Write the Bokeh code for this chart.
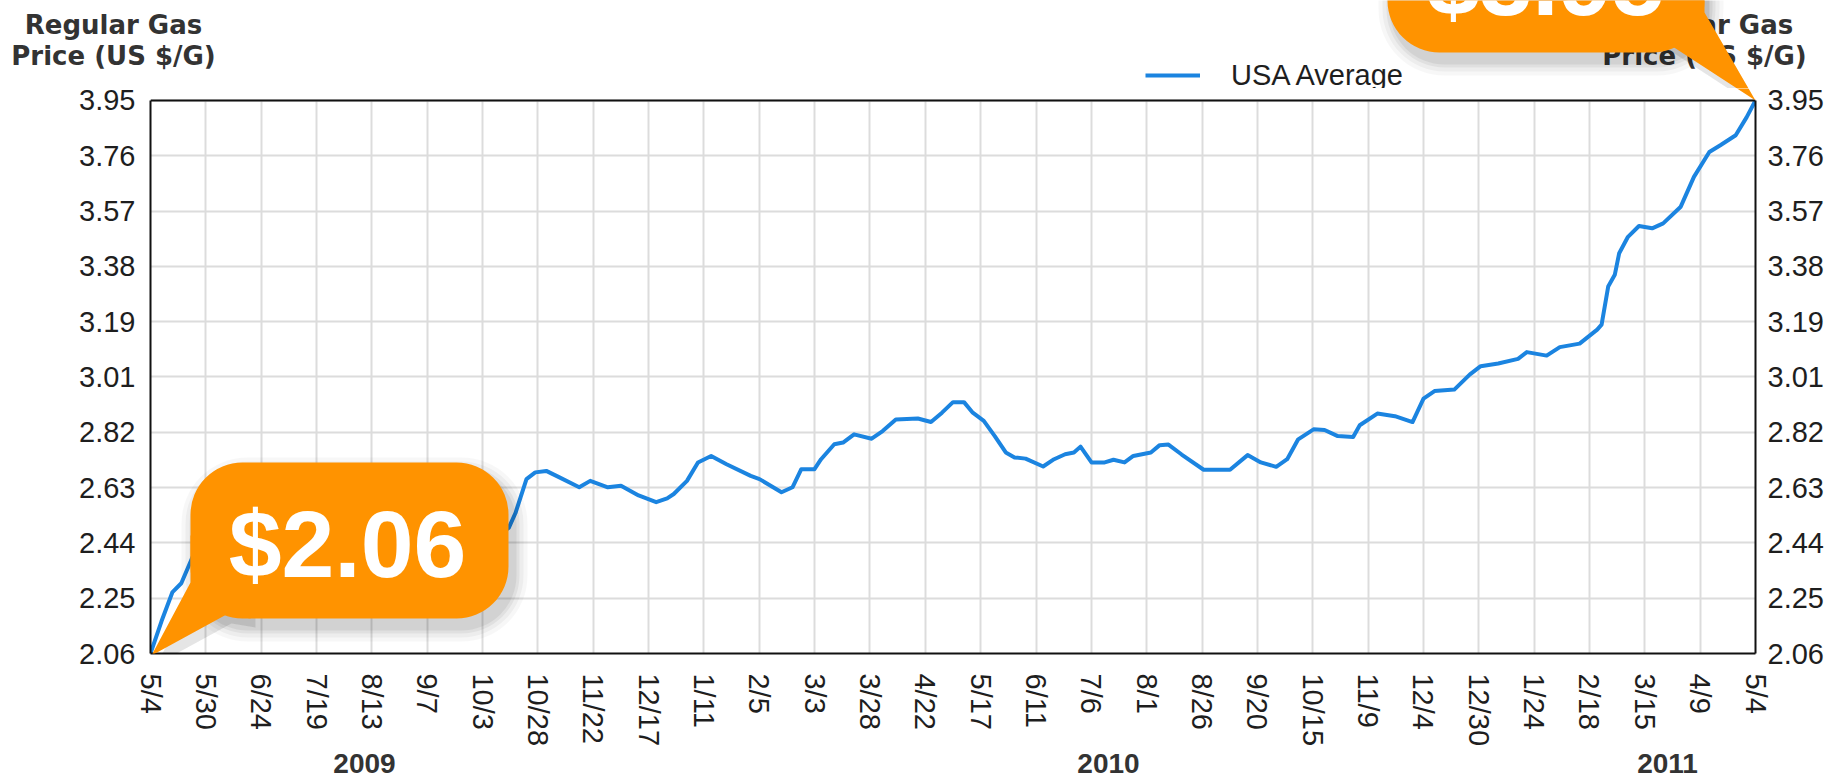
import numpy as np
from bokeh.plotting import figure
from bokeh.layouts import column
from bokeh.models import (Range1d, FixedTicker, LinearAxis, BoxAnnotation, PolyAnnotation,
                          Label, Legend, LegendItem, Span, Grid)
from bokeh.embed import file_html
from bokeh.resources import INLINE

# ---------------- data ----------------
start_date = "2009-05-04"          # day 0 of the series
days = [0, 5, 10, 14, 18,
        22, 28, 35, 42, 49, 56, 63, 70, 77, 84,
        91, 98, 105, 112, 119, 126, 133, 140, 147, 154,
        158, 163, 166, 171, 175, 180, 186, 195, 200, 208,
        214, 222, 230, 235, 238, 244, 249, 255, 262, 273,
        277, 287, 292, 296, 302, 305, 311, 315, 320, 328,
        333, 339, 349, 355, 360, 365, 370, 374, 379, 384,
        389, 393, 398, 406, 411, 416, 420, 423, 428, 434,
        438, 443, 447, 455, 459, 463, 469, 479, 491, 499,
        505, 512, 517, 522, 529, 534, 540, 547, 550, 558,
        566, 574, 579, 584, 593, 600, 605, 613, 622, 626,
        635, 641, 650, 658, 660, 663, 666, 668, 672, 677,
        683, 688, 696, 702, 709, 714, 721, 726, 730]
price = [2.06, 2.17, 2.27, 2.30, 2.37,
         2.44, 2.53, 2.62, 2.67, 2.68, 2.65, 2.60, 2.54, 2.49, 2.50,
         2.56, 2.62, 2.64, 2.64, 2.62, 2.58, 2.55, 2.51, 2.48, 2.46,
         2.46, 2.49, 2.54, 2.656, 2.679, 2.684, 2.662, 2.628, 2.65, 2.628,
         2.633, 2.60, 2.577, 2.59, 2.605, 2.65, 2.713, 2.735, 2.707, 2.667,
         2.656, 2.611, 2.628, 2.69, 2.69, 2.724, 2.775, 2.781, 2.809, 2.794,
         2.82, 2.86, 2.863, 2.851, 2.883, 2.919, 2.919, 2.883, 2.855, 2.803,
         2.747, 2.73, 2.726, 2.699, 2.724, 2.741, 2.747, 2.767, 2.713, 2.713,
         2.722, 2.713, 2.735, 2.747, 2.772, 2.774, 2.74, 2.688, 2.688, 2.738,
         2.713, 2.698, 2.724, 2.792, 2.826, 2.824, 2.803, 2.80, 2.84, 2.88,
         2.871, 2.851, 2.931, 2.957, 2.962, 3.013, 3.042, 3.051, 3.067, 3.09,
         3.078, 3.107, 3.119, 3.167, 3.184, 3.314, 3.354, 3.428, 3.484, 3.521,
         3.513, 3.53, 3.587, 3.689, 3.774, 3.797, 3.831, 3.893, 3.95]

x_tick_labels = ["5/4", "5/30", "6/24", "7/19", "8/13", "9/7", "10/3", "10/28", "11/22",
                 "12/17", "1/11", "2/5", "3/3", "3/28", "4/22", "5/17", "6/11", "7/6",
                 "8/1", "8/26", "9/20", "10/15", "11/9", "12/4", "12/30", "1/24", "2/18",
                 "3/15", "4/9", "5/4"]
y_tick_values = [2.06, 2.249, 2.438, 2.627, 2.816, 3.005, 3.194, 3.383, 3.572, 3.761, 3.95]
y_tick_labels = ["2.06", "2.25", "2.44", "2.63", "2.82", "3.01", "3.19", "3.38", "3.57",
                 "3.76", "3.95"]
year_labels = ["2009", "2010", "2011"]
series_name = "USA Average"
axis_title = ["Regular Gas", "Price (US $/G)"]

# ---------------- style / geometry ----------------
BLUE = "#1B84E0"
ORANGE = "#FF9300"
GRID = "#DCDCDC"
TXT = "#1E1E1E"
TITLE_C = "#333333"
BORDER = "#111111"

W = 1843
H_TOP, H_MAIN, H_BOT = 88, 661, 29
FL, FR, FT, FB = 150, 1755, 100, 655      # plot frame on the page
Y0_MAIN = H_TOP                            # page y of main figure top
Y0_BOT = H_TOP + H_MAIN                    # page y of bottom figure top

x_lo, x_hi = days[0], days[-1]
y_lo, y_hi = y_tick_values[0], y_tick_values[-1]
px_per_unit = (FB - FT) / (y_hi - y_lo)
y_top_ext = y_hi + (FT - Y0_MAIN) / px_per_unit


def no_align(f):
    if "frame_align" in f.properties():
        f.frame_align = False
    return f


def strip_fig(height):
    f = figure(width=W, height=height, output_backend="svg", toolbar_location=None,
               title=None, x_axis_type=None, y_axis_type=None,
               x_range=Range1d(0, 1), y_range=Range1d(0, 1),
               min_border_left=0, min_border_right=0, min_border_top=0, min_border_bottom=0)
    f.outline_line_color = None
    f.background_fill_color = "white"
    f.border_fill_color = "white"
    f.grid.visible = False
    return no_align(f)


top = strip_fig(H_TOP)
bot = strip_fig(H_BOT)

# ---------------- main chart ----------------
fig = figure(width=W, height=H_MAIN, output_backend="svg", toolbar_location=None, title=None,
             x_range=Range1d(x_lo, x_hi), y_range=Range1d(y_lo, y_top_ext),
             min_border_left=FL, min_border_right=W - FR,
             min_border_top=0, min_border_bottom=H_MAIN - (FB - Y0_MAIN))
no_align(fig)
fig.background_fill_color = "white"
fig.border_fill_color = "white"
fig.outline_line_color = None

x_ticks = list(np.linspace(x_lo, x_hi, len(x_tick_labels)))
xt = FixedTicker(ticks=x_ticks, minor_ticks=[])
yt = FixedTicker(ticks=y_tick_values, minor_ticks=[])

fig.xaxis.ticker = xt
fig.xaxis.major_label_overrides = {float(t): l for t, l in zip(x_ticks, x_tick_labels)}
fig.xaxis.major_label_orientation = -np.pi / 2
fig.xaxis.major_label_standoff = 20

yover = {float(t): l for t, l in zip(y_tick_values, y_tick_labels)}
fig.yaxis.ticker = yt
fig.yaxis.major_label_overrides = yover
fig.yaxis.major_label_standoff = 15
fig.yaxis.bounds = (y_lo, y_hi)

ra = LinearAxis(ticker=yt, major_label_overrides=yover, major_label_standoff=12,
                bounds=(y_lo, y_hi))
fig.add_layout(ra, "right")

for ax in [fig.xaxis[0], fig.yaxis[0], ra]:
    ax.axis_line_color = BORDER
    ax.axis_line_width = 2
    ax.major_tick_line_color = None
    ax.minor_tick_line_color = None
    ax.major_tick_in = 0
    ax.major_tick_out = 0
    ax.major_label_text_font = "Liberation Sans"
    ax.major_label_text_font_size = "29px"
    ax.major_label_text_color = TXT

fig.xgrid.ticker = xt
fig.ygrid.ticker = yt
fig.grid.grid_line_color = GRID
fig.grid.grid_line_width = 2
if "cross_bounds" in Grid.properties():
    fig.xgrid.cross_bounds = (y_lo, y_hi)
else:
    fig.xgrid.visible = False
    fig.segment(x0=x_ticks, y0=[y_lo] * len(x_ticks), x1=x_ticks, y1=[y_hi] * len(x_ticks),
                line_color=GRID, line_width=2, level="underlay")

fig.add_layout(Span(location=y_hi, dimension="width", line_color=BORDER, line_width=2))

r = fig.line(days, price, line_color=BLUE, line_width=4, line_join="round")

# legend (lives in the strip above the chart; its swatch renderer copies the line style
# and sits outside the strip's visible range)
r_leg = top.line([-5, -4], [-5, -4], line_color=BLUE, line_width=4)
legend = Legend(items=[LegendItem(label=series_name, renderers=[r_leg])],
                location=(1145, -4), border_line_color=None, background_fill_alpha=0,
                padding=0, margin=0, spacing=0, glyph_width=55, glyph_height=34,
                label_height=34, label_standoff=31, label_text_font="Liberation Sans",
                label_text_font_size="29px", label_text_color=TXT)
top.add_layout(legend, "center")


# ---------------- texts (y = vertical middle of the letters) ----------------
def clabel(f, x, y, text, font, size, color, style="normal", align="center"):
    f.add_layout(Label(x=x, y=y, x_units="canvas", y_units="canvas", text=text,
                       text_font=font, text_font_size=size, text_color=color,
                       text_font_style=style, text_align=align,
                       text_baseline="middle"))


for cx in (113, 1704):
    clabel(top, cx, 24, axis_title[0], "DejaVu Sans", "26px", TITLE_C, "bold")
    clabel(top, cx, 55, axis_title[1], "DejaVu Sans", "26px", TITLE_C, "bold")

for cx, yl in zip((364, 1108, 1667), year_labels):
    clabel(bot, cx, 763 - Y0_BOT, yl, "Liberation Sans", "28px", TITLE_C, "bold")


# ---------------- callouts ----------------
def to_page(d, v):
    sx = FL + (d - x_lo) / (x_hi - x_lo) * (FR - FL)
    sy = FB - (v - y_lo) * px_per_unit
    return sx, sy


RAD = 52


def callout(f, yoff, tip, box, tail, text_off, text):
    tx, ty = tip[0], tip[1] - yoff
    l, rr, t, b = tx + box[0], tx + box[1], ty + box[2], ty + box[3]
    txs = [tx + a for a, _ in tail]
    tys = [ty + c for _, c in tail]
    sdx, sdy = 5, 9
    for e, a in [(14, 0.03), (10, 0.04), (6, 0.05), (3, 0.06)]:
        f.add_layout(BoxAnnotation(left=l - e + sdx, right=rr + e + sdx, top=t - e + sdy,
                                   bottom=b + e + sdy, left_units="canvas",
                                   right_units="canvas", top_units="canvas",
                                   bottom_units="canvas", fill_color="black", fill_alpha=a,
                                   line_color=None, border_radius=RAD + e))
    for a in (0.05, 0.05):
        f.add_layout(PolyAnnotation(xs=[x + sdx for x in txs], ys=[y + sdy for y in tys],
                                    xs_units="canvas", ys_units="canvas",
                                    fill_color="black", fill_alpha=a, line_color=None))
    f.add_layout(BoxAnnotation(left=l, right=rr, top=t, bottom=b, left_units="canvas",
                               right_units="canvas", top_units="canvas",
                               bottom_units="canvas", fill_color=ORANGE, fill_alpha=1,
                               line_color=None, border_radius=RAD))
    f.add_layout(PolyAnnotation(xs=txs, ys=tys, xs_units="canvas", ys_units="canvas",
                                fill_color=ORANGE, fill_alpha=1, line_color=None))
    f.add_layout(Label(x=tx + text_off[0], y=ty + text_off[1], x_units="canvas",
                       y_units="canvas", text=text, text_font="Liberation Sans",
                       text_font_size="95px", text_font_style="bold", text_color="white",
                       text_align="center", text_baseline="middle"))


tip1 = to_page(days[0], price[0])
callout(fig, Y0_MAIN, tip1, (40, 358, -193, -37),
        [(40, -120), (40, -73), (1, 0), (76, -41), (100, -37), (100, -120)],
        (197, -112), "${:.2f}".format(price[0]))

tip2 = to_page(days[-1], price[-1])
tail2 = [(-130, -60), (-86, -56), (0, 0), (-51, -88), (-51, -130), (-130, -130)]
callout(top, 0, tip2, (-368, -51, -204, -48), tail2, (-210, -119),
        "${:.2f}".format(price[-1]))
# the tip of this callout reaches into the chart strip
fig.add_layout(PolyAnnotation(xs=[tip2[0] + a for a, _ in tail2],
                              ys=[tip2[1] - Y0_MAIN + c for _, c in tail2],
                              xs_units="canvas", ys_units="canvas",
                              fill_color=ORANGE, fill_alpha=1, line_color=None))

p = column(top, fig, bot, spacing=0)

open("out.html", "w").write(file_html(p, INLINE))
